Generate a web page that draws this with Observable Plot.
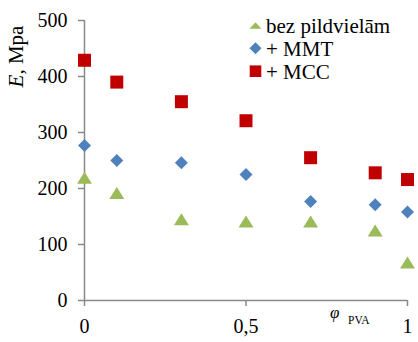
<!DOCTYPE html>
<html>
<head>
<meta charset="utf-8">
<script src="https://cdn.jsdelivr.net/npm/d3@7"></script>
<script src="https://cdn.jsdelivr.net/npm/@observablehq/plot@0.6"></script>
<style>
  html, body { margin: 0; padding: 0; background: white; }
  #chart { width: 418px; height: 342px; }
  #chart svg, #chart svg text, #chart svg tspan { font-family: "Liberation Serif", "Times New Roman", "DejaVu Serif", serif !important; }
</style>
</head>
<body>
<div id="chart"></div>
<script>
// ---- data ----
const phi = [0, 0.1, 0.3, 0.5, 0.7, 0.9, 1];
const bezValues = [219, 192, 145, 141, 141, 125, 68];
const mmtValues = [277, 250, 246, 225, 177, 171, 158];
const mccValues = [429, 390, 355, 321, 255, 228, 216];
const seriesNames = ["bez pildvielām", "+ MMT", "+ MCC"];
const seriesColors = ["#9BBB59", "#4F81BD", "#C00000"];
const xTicks = [0, 0.5, 1];
const xTickLabels = ["0", "0,5", "1"];
const yTicks = [0, 100, 200, 300, 400, 500];

// ---- symbols (centered on bounding box, like the original markers) ----
function triangleSym(hw, hh) {
  return {draw(ctx, size) {
    const r = Math.sqrt(size / Math.PI);
    ctx.moveTo(0, -r * hh);
    ctx.lineTo(r * hw, r * hh);
    ctx.lineTo(-r * hw, r * hh);
    ctx.closePath();
  }};
}
const diamondSym = {draw(ctx, size) {
  const r = Math.sqrt(size / Math.PI);
  ctx.moveTo(0, -r); ctx.lineTo(r, 0); ctx.lineTo(0, r); ctx.lineTo(-r, 0); ctx.closePath();
}};
const squareSym = {draw(ctx, size) {
  const r = Math.sqrt(size / Math.PI);
  ctx.rect(-r, -r, 2 * r, 2 * r);
}};
const triSym = triangleSym(1.25, 1);

const rows = (vals) => phi.map((p, i) => ({phi: p, E: vals[i]}));
const gray = "#898989";
const font = "'Liberation Serif', 'Times New Roman', 'DejaVu Serif', serif";

const chart = Plot.plot({
  width: 418,
  height: 342,
  marginLeft: 84,
  marginRight: 11,
  marginTop: 20,
  marginBottom: 42,
  style: {fontFamily: font, fontSize: "20px", color: "black", background: "white"},
  x: {domain: [0, 1]},
  y: {domain: [0, 500]},
  marks: [
    Plot.ruleX([0], {stroke: gray, strokeWidth: 1.5}),
    Plot.ruleY([0], {stroke: gray, strokeWidth: 1.5}),
    Plot.axisX({ticks: xTicks, tickFormat: (d) => xTickLabels[xTicks.indexOf(d)], tickSize: 6, tickPadding: 12, stroke: gray, strokeWidth: 1.5, label: null}),
    Plot.axisY({ticks: yTicks, tickFormat: (d) => String(d), tickSize: 6, tickPadding: 11, stroke: gray, strokeWidth: 1.5, label: null}),
    Plot.dot(rows(bezValues), {x: "phi", y: "E", symbol: triSym, r: 6, fill: seriesColors[0], stroke: "none"}),
    Plot.dot(rows(mmtValues), {x: "phi", y: "E", symbol: diamondSym, r: 6.5, fill: seriesColors[1], stroke: "none"}),
    Plot.dot(rows(mccValues), {x: "phi", y: "E", symbol: squareSym, r: 6.5, fill: seriesColors[2], stroke: "none"})
  ]
});
document.getElementById("chart").appendChild(chart);

// ---- axis titles and legend ----
const svg = d3.select(chart);

const yl = svg.append("text")
  .attr("transform", "translate(23,56.5) rotate(-90)")
  .attr("text-anchor", "middle")
  .attr("font-family", font).attr("font-size", 21).attr("fill", "black");
yl.append("tspan").attr("font-style", "italic").text("E");
yl.append("tspan").text(", Mpa");

svg.append("text").attr("x", 330).attr("y", 318).attr("text-anchor", "start")
  .attr("font-family", font).attr("font-size", 17).attr("font-style", "italic").attr("fill", "black")
  .text("φ");
svg.append("text").attr("x", 348).attr("y", 324).attr("text-anchor", "start")
  .attr("font-family", font).attr("font-size", 11.5).attr("fill", "black")
  .text("PVA");

const legendSyms = [triangleSym(1.1, 0.6), diamondSym, squareSym];
const legendR = [5.5, 6, 5.8];
const legendY = [25.5, 48.3, 71.2];
const lg = svg.append("g");
seriesNames.forEach((name, i) => {
  lg.append("path")
    .attr("transform", `translate(255.5,${legendY[i]})`)
    .attr("d", d3.symbol().type(legendSyms[i]).size(Math.PI * legendR[i] * legendR[i])())
    .attr("fill", seriesColors[i]);
  lg.append("text").attr("x", 266).attr("y", legendY[i] + 7.5).attr("text-anchor", "start")
    .attr("font-family", font).attr("font-size", 21).attr("fill", "black")
    .text(name);
});
</script>
</body>
</html>
